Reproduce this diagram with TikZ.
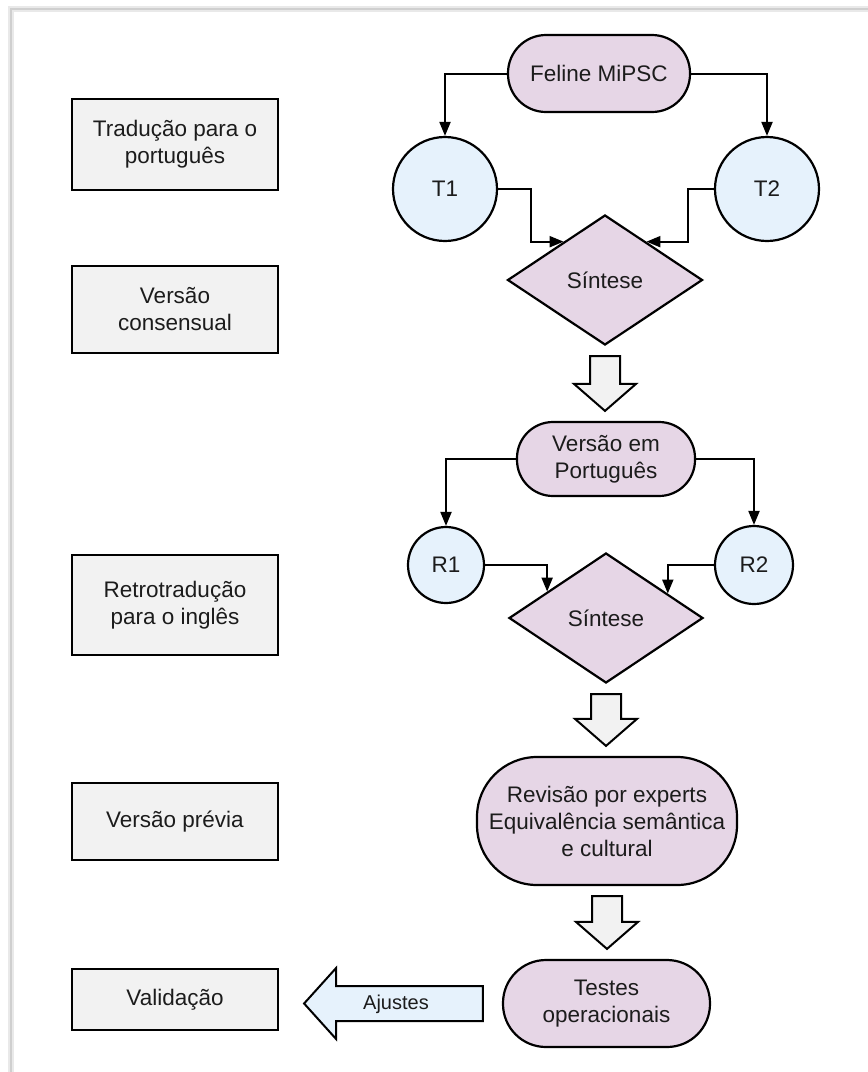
\documentclass[tikz,border=0pt]{standalone}
\usepackage{fontspec}
\setmainfont{Liberation Sans}
\usetikzlibrary{shapes.geometric,arrows.meta,calc}
\definecolor{purp}{HTML}{E6D6E6}
\definecolor{cblue}{HTML}{E6F2FC}
\definecolor{boxgray}{HTML}{F2F2F2}
\definecolor{txt}{HTML}{1C1C1C}
\definecolor{framegray}{HTML}{CFCFCF}
\tikzset{
  base/.style={draw=black, line width=2.2pt, inner sep=0pt, align=center, text=txt,
    font=\fontsize{22.5pt}{27pt}\selectfont},
  leftbox/.style={base, rectangle, fill=boxgray, minimum width=206pt},
  stadium/.style={base, rectangle, fill=purp},
  circ/.style={base, circle, fill=cblue},
  decision/.style={base, diamond, fill=purp, minimum width=195pt, minimum height=130pt},
  conn/.style={draw=black, line width=2pt, -{Triangle[length=14pt,width=11pt]}},
  blockarrow/.style={draw=black, line width=2pt, fill=boxgray, line join=miter},
  sidearrow/.style={draw=black, line width=2pt, fill=cblue, line join=miter}
}
\newcommand\blockdown[2]{%
  \draw[blockarrow] let \p1=(#1), \p2=(#2) in
    (\x1-15pt,\y1-10pt) -- (\x1+15pt,\y1-10pt) -- (\x1+15pt,\y2+37pt) --
    (\x1+31pt,\y2+37pt) -- (\x1,\y2+10pt) -- (\x1-31pt,\y2+37pt) --
    (\x1-15pt,\y2+37pt) -- cycle;}
\begin{document}
\begin{tikzpicture}[x=1pt,y=-1pt]
\useasboundingbox (0,0) rectangle (868,1072);
% frame
\draw[framegray!45, line width=6pt] (11,1072) -- (11,9) -- (868,9);
\draw[framegray, line width=2.5pt] (11,1072) -- (11,9) -- (868,9);

% left column
\node[leftbox, minimum height=91pt] (b1) at (175,144.5) {Tradução para o\\português};
\node[leftbox, minimum height=87pt] (b2) at (175,309.5) {Versão\\consensual};
\node[leftbox, minimum height=100pt] (b3) at (175,605) {Retrotradução\\para o inglês};
\node[leftbox, minimum height=77pt] (b4) at (175,821.5) {Versão prévia};
\node[leftbox, minimum height=61pt] (b5) at (175,999.5) {Validação};

% right column
\node[stadium, minimum width=182pt, minimum height=77pt, rounded corners=38pt] (fel) at (599,73.5) {Feline MiPSC};
\node[circ, minimum size=104pt] (t1) at (445,189) {T1};
\node[circ, minimum size=104pt] (t2) at (767,189) {T2};
\node[decision] (s1) at (605,280) {Síntese};
\node[stadium, minimum width=178pt, minimum height=74pt, rounded corners=36pt] (v) at (606,459) {Versão em\\Português};
\node[circ, minimum size=76pt] (r1) at (446,565) {R1};
\node[circ, minimum size=78pt] (r2) at (754,565) {R2};
\node[decision, minimum width=194pt] (s2) at (606,618) {Síntese};
\node[stadium, minimum width=260pt, minimum height=128pt, rounded corners=60pt] (rev) at (607,821) {Revisão por experts\\Equivalência semântica\\e cultural};
\node[stadium, minimum width=207pt, minimum height=87pt, rounded corners=43pt] (tes) at (606.5,1003.5) {Testes\\operacionais};

% connectors
\draw[conn] (fel.west) -| (t1.north);
\draw[conn] (fel.east) -| (t2.north);
\draw[conn] (t1.east) -- ++(33,0) |- ($(s1.west)!0.58!(s1.north)$);
\draw[conn] (t2.west) -- ++(-26,0) |- ($(s1.east)!0.58!(s1.north)$);
\draw[conn] (v.west) -| (r1.north);
\draw[conn] (v.east) -| (r2.north);
\draw[conn] (r1.east) -| ($(s2.west)!0.40!(s2.north)$);
\draw[conn] (r2.west) -| ($(s2.east)!0.37!(s2.north)$);

% block arrows
\blockdown{s1.south}{v.north}
\blockdown{s2.south}{rev.north}
\blockdown{rev.south}{tes.north}

% Ajustes arrow
\draw[sidearrow] let \p1=(tes.west), \p2=(b5.east) in
  (\x1-19pt,\y1+17.5pt) -- (\x2+57pt,\y1+17.5pt) -- (\x2+57pt,\y1+35.5pt) --
  (\x2+25pt,\y1) -- (\x2+57pt,\y1-35.5pt) -- (\x2+57pt,\y1-17.5pt) --
  (\x1-19pt,\y1-17.5pt) -- cycle;
\node[text=txt, font=\fontsize{20pt}{24pt}\selectfont, inner sep=0pt] (aj) at (396,1004) {Ajustes};
\end{tikzpicture}
\end{document}
